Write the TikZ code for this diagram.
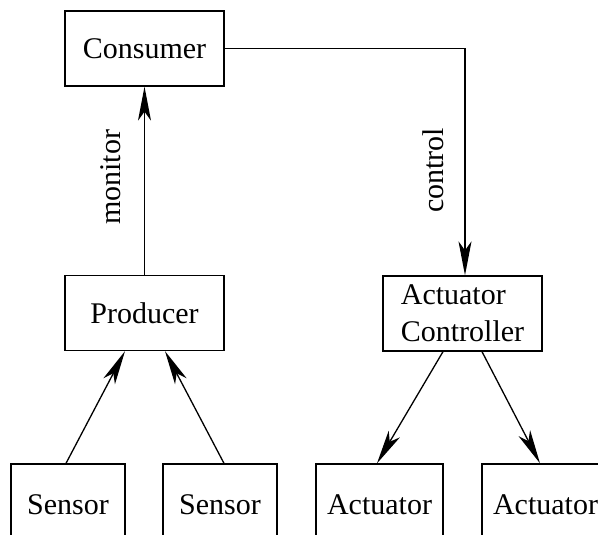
\documentclass[tikz,border=0pt]{standalone}
\usepackage{fontspec}
\setmainfont{Liberation Serif}
\usetikzlibrary{arrows.meta}
\begin{document}
\begin{tikzpicture}[x=1pt,y=-1pt,
  every node/.style={font=\fontsize{30}{37}\selectfont, inner sep=0pt},
  box/.style={draw, line width=1.3pt, minimum width=159pt, minimum height=75pt},
  lowbox/.style={draw, line width=1.3pt, text height=50pt, text depth=50pt, anchor=base},
  tipA/.tip={Stealth[length=34pt,width=13pt,inset=9pt]},
  conn/.style={line width=1.3pt, -tipA}]
\useasboundingbox (0,0) rectangle (598,535);
\clip (0,0) rectangle (598,535);
\node[box] (cons) at (144.5,48.5) {Consumer};
\node[box] (prod) at (144.5,313) {Producer};
\node[box, align=left] (ctrl) at (462.5,313.5) {Actuator\\Controller};
\node[lowbox, minimum width=114pt] (s1) at (68,514) {Sensor};
\node[lowbox, minimum width=114pt] (s2) at (220,514) {Sensor};
\node[lowbox, minimum width=127pt] (a1) at (379.5,514) {Actuator};
\node[lowbox, minimum width=127pt] (a2) at (545.5,514) {Actuator};
\draw[conn] (prod.north) -- (cons.south);
\draw[conn] (cons.east) -| ([xshift=2.5pt]ctrl.north);
\draw[conn] ([xshift=-2pt]s1.north) -- ([xshift=-19.5pt]prod.south);
\draw[conn] ([xshift=4pt]s2.north) -- ([xshift=20.5pt]prod.south);
\draw[conn] ([xshift=-19.5pt]ctrl.south) -- ([xshift=-2.5pt]a1.north);
\draw[conn] ([xshift=19.5pt]ctrl.south) -- ([xshift=-5.5pt]a2.north);
\node[rotate=90, anchor=base] (mon) at (120,177.5) {monitor};
\node[rotate=90, anchor=base] (ctl) at (443,170.5) {control};
\end{tikzpicture}
\end{document}
